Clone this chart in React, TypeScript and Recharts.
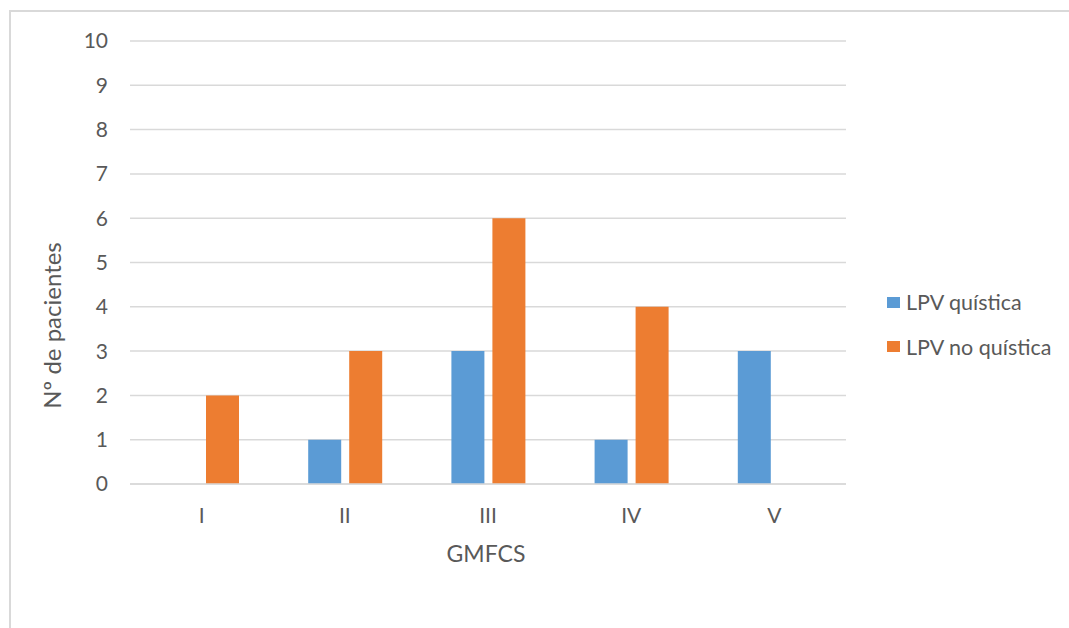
import { Bar, BarChart, CartesianGrid, Label, Legend, XAxis, YAxis } from "recharts";

const categories = ["I", "II", "III", "IV", "V"];
const quistica = [0, 1, 3, 1, 3];
const noQuistica = [2, 3, 6, 4, 0];
const yTicks = [0, 1, 2, 3, 4, 5, 6, 7, 8, 9, 10];

const series = [
  { key: "quistica", label: "LPV quística", color: "#5B9BD5" },
  { key: "noQuistica", label: "LPV no quística", color: "#ED7D31" },
];

const data = categories.map((name, i) => ({
  name,
  quistica: quistica[i],
  noQuistica: noQuistica[i],
}));

const TEXT = "#595959";
const GRID = "#d9d9d9";
const FONT = "Lato, 'Open Sans', sans-serif";

function YTitle({ viewBox }: any) {
  const x = viewBox.x + 11;
  const y = viewBox.y + viewBox.height / 2 + 63;
  return (
    <text
      x={x}
      y={y}
      textAnchor="middle"
      fill={TEXT}
      fontSize={24}
      fontFamily={FONT}
      transform={`rotate(-90, ${x}, ${y})`}
    >
      Nº de pacientes
    </text>
  );
}

function XTitle({ viewBox }: any) {
  return (
    <text
      x={viewBox.x + viewBox.width / 2 - 2}
      y={viewBox.y + 78}
      textAnchor="middle"
      fill={TEXT}
      fontSize={23}
      fontFamily={FONT}
    >
      GMFCS
    </text>
  );
}

// recharts 3 hands the vertical legend payload back reversed, so draw from our own list
function LegendBox() {
  return (
    <div style={{ fontFamily: FONT, fontSize: 21.5, color: TEXT }}>
      {series.map((s) => (
        <div key={s.key} style={{ height: 44.5, display: "flex", alignItems: "center" }}>
          <span
            style={{
              display: "inline-block",
              width: 13,
              height: 11,
              background: s.color,
              marginRight: 6,
            }}
          />
          <span>{s.label}</span>
        </div>
      ))}
    </div>
  );
}

export default function App() {
  return (
    <div
      style={{
        position: "fixed",
        left: 0,
        top: 0,
        width: 1069,
        height: 628,
        overflow: "hidden",
        background: "#fff",
      }}
    >
      <div
        style={{
          position: "absolute",
          left: 9,
          top: 10,
          width: 1100,
          height: 700,
          border: `2px solid ${GRID}`,
        }}
      />
      <div style={{ position: "absolute", left: 0, top: 0 }}>
        <BarChart
          width={1069}
          height={628}
          data={data}
          margin={{ top: 41, right: 223, bottom: 104, left: 50 }}
          barSize={33}
          barGap={8}
        >
          <CartesianGrid stroke={GRID} strokeWidth={1.5} vertical={false} />
          <XAxis
            dataKey="name"
            height={40}
            axisLine={{ stroke: GRID, strokeWidth: 1.5 }}
            tickLine={false}
            tickMargin={18}
            tick={{ fontSize: 21, fill: TEXT, fontFamily: FONT }}
          >
            <Label content={<XTitle />} />
          </XAxis>
          <YAxis
            width={80}
            domain={[0, 10]}
            ticks={yTicks}
            interval={0}
            axisLine={false}
            tickLine={false}
            tickMargin={16}
            tick={{ fontSize: 21, fill: TEXT, fontFamily: FONT }}
          >
            <Label content={<YTitle />} />
          </YAxis>
          <Legend
            layout="vertical"
            align="center"
            verticalAlign="middle"
            content={<LegendBox />}
            wrapperStyle={{ left: 887, top: 279.75, width: 182 }}
          />
          {series.map((s) => (
            <Bar
              key={s.key}
              dataKey={s.key}
              name={s.label}
              fill={s.color}
              isAnimationActive={false}
            />
          ))}
        </BarChart>
      </div>
    </div>
  );
}
